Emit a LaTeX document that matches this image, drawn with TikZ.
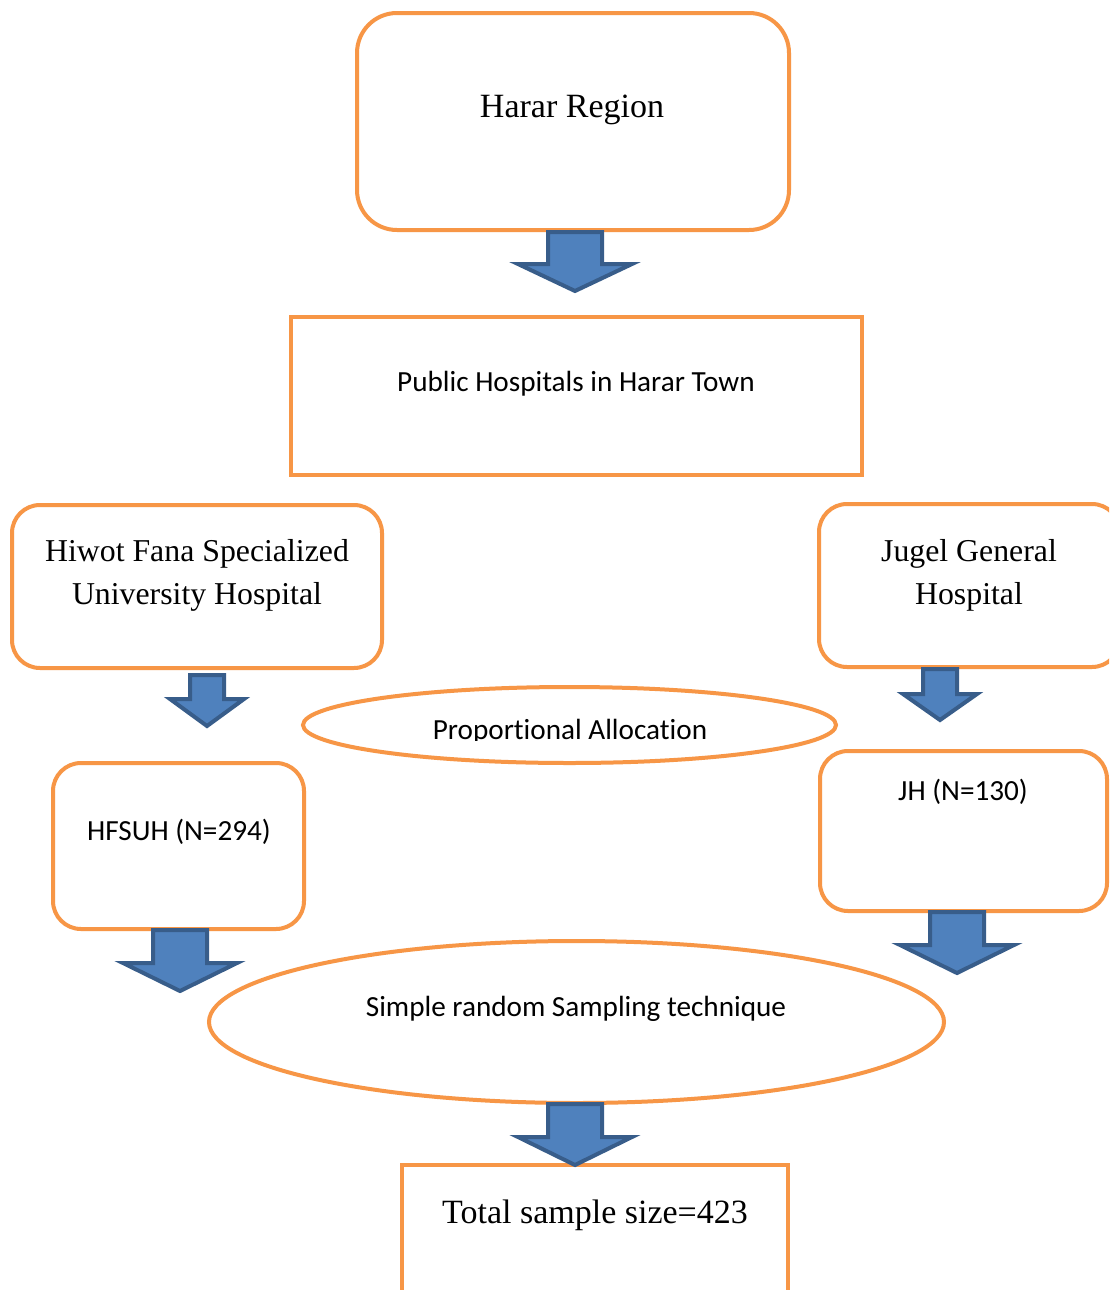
\documentclass[tikz,border=0pt]{standalone}
\usepackage{fontspec}
\setmainfont{Liberation Serif}
\newfontfamily\calfont[RawFeature={-liga;-clig;-dlig}]{Carlito}
\usetikzlibrary{shapes.geometric}
\definecolor{boxorange}{HTML}{F79646}
\definecolor{arrowfill}{HTML}{4F81BD}
\definecolor{arrowedge}{HTML}{385D8A}
\tikzset{
  obox/.style={draw=boxorange, line width=2pt, inner sep=0pt, fill=white},
  rbox/.style={obox, rounded corners=14pt},
  oell/.style={obox, ellipse},
  barrowstyle/.style={fill=arrowfill, draw=arrowedge, line width=2pt, line join=miter},
  titletext/.style={font=\fontsize{17}{20}\selectfont, anchor=base},
  hosptext/.style={font=\fontsize{15.9}{21.5}\selectfont, align=center, anchor=base},
  caltext/.style={font=\calfont\fontsize{14.6}{17}\selectfont, anchor=base}
}
\newcommand\blockarrow[6]{%
  \draw[barrowstyle] (#1-#5,#2) -- (#1-#5,#3) -- (#1-#6,#3) -- (#1,#4) -- (#1+#6,#3) -- (#1+#5,#3) -- (#1+#5,#2) -- cycle;}
\begin{document}
\begin{tikzpicture}[x=0.5pt,y=-0.5pt]
\useasboundingbox (0,0) rectangle (1109,1290);
\clip (0,0) rectangle (1109,1290);
\fill[white] (0,0) rectangle (1109,1290);
% boxes
\node[rbox, rounded corners=20pt, minimum width=216pt, minimum height=108.5pt] (region) at (573,121.5) {};
\node[obox, minimum width=285.5pt, minimum height=79pt] (public) at (576.5,396) {};
\node[rbox, minimum width=185pt, minimum height=81.5pt] (hfsu) at (197,586.5) {};
\node[rbox, minimum width=150.5pt, minimum height=81.5pt] (jugel) at (969.5,585.5) {};
\node[oell, minimum width=266.5pt, minimum height=38pt] (prop) at (569.5,725) {};
\node[rbox, minimum width=125.5pt, minimum height=83pt] (hfsuh) at (178.5,846) {};
\node[rbox, minimum width=143.5pt, minimum height=80pt] (jh) at (963.5,831) {};
\node[oell, minimum width=367.5pt, minimum height=81pt] (srs) at (576.5,1022) {};
\node[obox, minimum width=193pt, minimum height=70pt] (total) at (595,1235) {};
% texts
\node[titletext] (t1) at (572,117) {Harar Region};
\node[caltext] (t2) at (576,391) {Public Hospitals in Harar Town};
\node[hosptext] (t3) at (197,604) {Hiwot Fana Specialized\\University Hospital};
\node[hosptext] (t4) at (969,604) {Jugel General\\Hospital};
\begin{scope}
  \clip (300,700) rectangle (840,740);
  \node[caltext] (t5) at (570,739) {Proportional Allocation};
\end{scope}
\node[caltext] (t6) at (179,840) {HFSUH (N=294)};
\node[caltext] (t7) at (963,800) {JH (N=130)};
\node[caltext] (t8) at (576,1016) {Simple random Sampling technique};
\node[titletext] (t9) at (595,1223) {Total sample size=423};
% block arrows
\blockarrow{575}{232}{264}{291}{27}{57}
\blockarrow{207}{675}{699}{726}{17}{37}
\blockarrow{940}{669}{694}{720}{17}{37}
\blockarrow{180}{930}{963}{991}{27}{57}
\blockarrow{957}{912}{945}{973}{27}{57}
\blockarrow{575}{1104}{1137}{1165}{27}{57}
\end{tikzpicture}
\end{document}
